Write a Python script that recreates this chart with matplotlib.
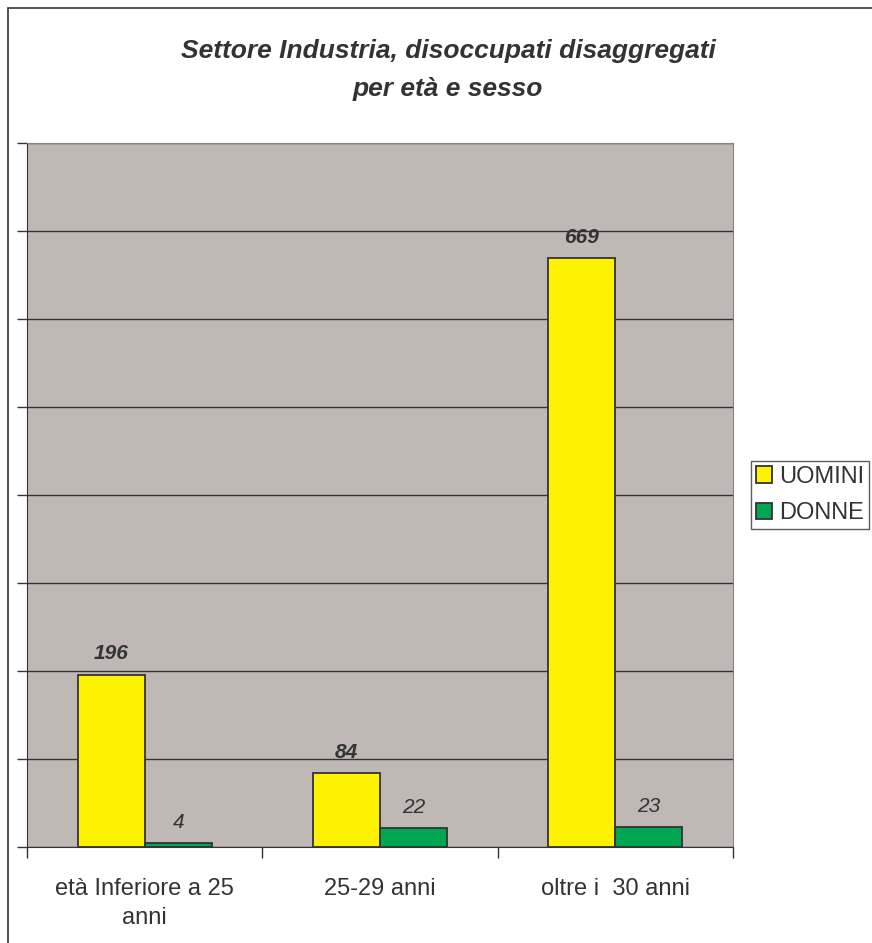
import matplotlib.pyplot as plt
import numpy as np
from matplotlib.patches import Rectangle

categories = ['età Inferiore a 25\nanni', '25-29 anni', 'oltre i  30 anni']
uomini = [196, 84, 669]
donne = [4, 22, 23]

plt.rcParams['font.family'] = ['Liberation Sans', 'DejaVu Sans']

W, H = 872, 943
fig = plt.figure(figsize=(W / 100, H / 100), dpi=100)
# outer chart frame (cut off on the right and bottom like the original)
fig.patches.append(Rectangle((8 / W, -0.1), 1.0, 1 - 8 / H + 0.1, transform=fig.transFigure,
                             fill=False, edgecolor='#333333', linewidth=1.2))

ax = fig.add_axes([27 / W, 1 - 847 / H, (733 - 27) / W, (847 - 143) / H])
ax.set_facecolor('#c0b8b5')

x = np.arange(len(categories))
w = 0.285
ax.bar(x - w / 2, uomini, w, color='#fff200', edgecolor='#333333', linewidth=1.3, label='UOMINI', zorder=3)
ax.bar(x + w / 2, donne, w, color='#00a651', edgecolor='#333333', linewidth=1.3, label='DONNE', zorder=3)

for i in range(len(categories)):
    ax.annotate(str(uomini[i]), (x[i] - w / 2, uomini[i]), xytext=(0, 8), textcoords='offset points',
                ha='center', va='bottom', fontsize=15, fontweight='bold', fontstyle='italic',
                color='#333333')
    ax.annotate(str(donne[i]), (x[i] + w / 2, donne[i]), xytext=(0, 8), textcoords='offset points',
                ha='center', va='bottom', fontsize=15, fontstyle='italic', color='#333333')

ax.set_xlim(-0.5, 2.5)
ax.set_ylim(0, 800)
ax.set_yticks(np.arange(0, 801, 100))
ax.yaxis.grid(True, color='#333333', linewidth=1.0)
ax.set_axisbelow(True)
ax.tick_params(axis='y', labelleft=False, length=7, width=1, color='#333333', direction='out')
ax.set_xticks([-0.5, 0.5, 1.5, 2.5])
ax.set_xticklabels([])
ax.set_xticks(x, minor=True)
ax.set_xticklabels(categories, minor=True, fontsize=17, color='#333333', linespacing=1.45)
ax.tick_params(axis='x', which='major', length=8, width=1, color='#333333', direction='out')
ax.tick_params(axis='x', which='minor', length=0, pad=22)
for s in ['top', 'right']:
    ax.spines[s].set_color('#8a8280')
for s in ['left', 'bottom']:
    ax.spines[s].set_color('#333333')

fig.text(448 / W, 1 - 70 / H, 'Settore Industria, disoccupati disaggregati\nper età e sesso',
         ha='center', va='center', fontsize=19, fontweight='bold', fontstyle='italic',
         color='#333333', linespacing=1.7)

leg = fig.legend(loc='center left', bbox_to_anchor=(751 / W, 1 - 495 / H), fontsize=17,
                 frameon=True, fancybox=False, edgecolor='#333333', handlelength=0.7,
                 handleheight=0.7, handletextpad=0.3, borderpad=0.2, labelspacing=0.6,
                 borderaxespad=0)
leg.get_frame().set_linewidth(1.0)
for t in leg.get_texts():
    t.set_color('#333333')

fig.savefig('out.png', dpi=100)
